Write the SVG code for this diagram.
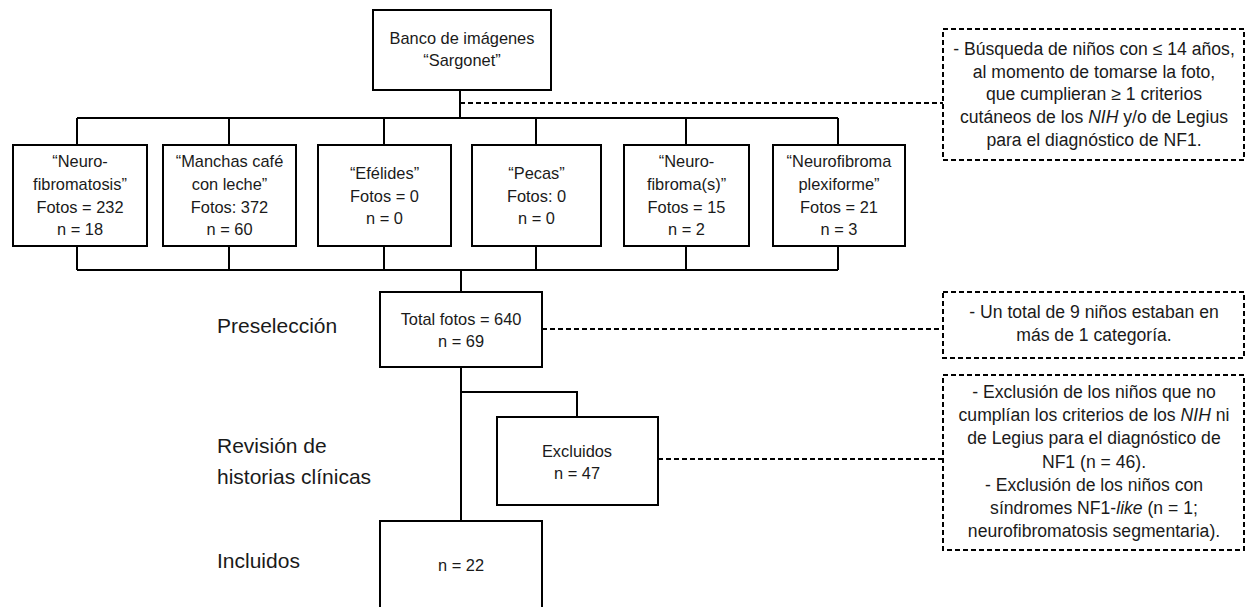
<svg xmlns="http://www.w3.org/2000/svg" width="1246" height="607" viewBox="0 0 1246 607">
<style>
.box{fill:#fff;stroke:#000;stroke-width:2}
.dbox{fill:#fff;stroke:#000;stroke-width:2;stroke-dasharray:5,3}
.ln{fill:none;stroke:#000;stroke-width:2}
.dl{fill:none;stroke:#000;stroke-width:2;stroke-dasharray:5,3}
text{font-family:"Liberation Sans",Arial,sans-serif;fill:#1a1a1a}
.t{font-size:16.4px;text-anchor:middle}
.n{font-size:17.6px;text-anchor:middle}
.lb{font-size:21px}
.i{font-style:italic}
</style>
<rect width="1246" height="607" fill="#fff"/>
<g id="connectors">
<path class="ln" d="M460,90V118M77,118H838M77,118V145M229,118V145M384,118V145M536,118V145M686,118V145M838,118V145"/>
<path class="ln" d="M77,246V270M229,246V270M384,246V270M536,246V270M686,246V270M838,246V270M77,270H838M461,270V292"/>
<path class="ln" d="M461,367V521M461,392H577V417"/>
<path class="dl" d="M460,103H943M542,329H943M658,459H943"/>
</g>
<g id="banco">
<rect class="box" x="373" y="10" width="178" height="80"/>
<text class="t" x="462" y="44">Banco de imágenes</text>
<text class="t" x="462" y="66">“Sargonet”</text>
</g>
<g id="cat1">
<rect class="box" x="13" y="145" width="134" height="101"/>
<text class="t" x="80" y="167">“Neuro-</text>
<text class="t" x="80" y="190">fibromatosis”</text>
<text class="t" x="80" y="212.5">Fotos = 232</text>
<text class="t" x="80" y="235">n = 18</text>
</g>
<g id="cat2">
<rect class="box" x="163" y="145" width="133" height="101"/>
<text class="t" x="229.5" y="167">“Manchas café</text>
<text class="t" x="229.5" y="190">con leche”</text>
<text class="t" x="229.5" y="212.5">Fotos: 372</text>
<text class="t" x="229.5" y="235">n = 60</text>
</g>
<g id="cat3">
<rect class="box" x="318" y="145" width="133" height="101"/>
<text class="t" x="384.5" y="179">“Efélides”</text>
<text class="t" x="384.5" y="201.5">Fotos = 0</text>
<text class="t" x="384.5" y="224">n = 0</text>
</g>
<g id="cat4">
<rect class="box" x="472" y="145" width="129" height="101"/>
<text class="t" x="536.5" y="179">“Pecas”</text>
<text class="t" x="536.5" y="201.5">Fotos: 0</text>
<text class="t" x="536.5" y="224">n = 0</text>
</g>
<g id="cat5">
<rect class="box" x="624" y="145" width="125" height="101"/>
<text class="t" x="686.5" y="167">“Neuro-</text>
<text class="t" x="686.5" y="190">fibroma(s)”</text>
<text class="t" x="686.5" y="212.5">Fotos = 15</text>
<text class="t" x="686.5" y="235">n = 2</text>
</g>
<g id="cat6">
<rect class="box" x="773" y="145" width="132" height="101"/>
<text class="t" x="839" y="167">“Neurofibroma</text>
<text class="t" x="839" y="190">plexiforme”</text>
<text class="t" x="839" y="212.5">Fotos = 21</text>
<text class="t" x="839" y="235">n = 3</text>
</g>
<g id="preseleccion">
<rect class="box" x="380" y="292" width="162" height="75"/>
<text class="t" x="461" y="325">Total fotos = 640</text>
<text class="t" x="461" y="347">n = 69</text>
</g>
<g id="excluidos">
<rect class="box" x="497" y="417" width="161" height="88"/>
<text class="t" x="577" y="457">Excluidos</text>
<text class="t" x="577" y="479">n = 47</text>
</g>
<g id="incluidos">
<rect class="box" x="380" y="521" width="162" height="100"/>
<text class="t" x="461" y="571">n = 22</text>
</g>
<g id="note1">
<rect class="dbox" x="943" y="29" width="301" height="131"/>
<text class="n" x="1094" y="55">- Búsqueda de niños con ≤ 14 años,</text>
<text class="n" x="1094" y="77.7">al momento de tomarse la foto,</text>
<text class="n" x="1094" y="100.4">que cumplieran ≥ 1 criterios</text>
<text class="n" x="1094" y="123">cutáneos de los <tspan class="i">NIH</tspan> y/o de Legius</text>
<text class="n" x="1094" y="145.8">para el diagnóstico de NF1.</text>
</g>
<g id="note2">
<rect class="dbox" x="943" y="292" width="301" height="66"/>
<text class="n" x="1094" y="318">- Un total de 9 niños estaban en</text>
<text class="n" x="1094" y="341">más de 1 categoría.</text>
</g>
<g id="note3">
<rect class="dbox" x="943" y="375" width="301" height="175"/>
<text class="n" x="1094" y="398">- Exclusión de los niños que no</text>
<text class="n" x="1094" y="421.2">cumplían los criterios de los <tspan class="i">NIH</tspan> ni</text>
<text class="n" x="1094" y="444.4">de Legius para el diagnóstico de</text>
<text class="n" x="1094" y="467.6">NF1 (n = 46).</text>
<text class="n" x="1094" y="490.8">- Exclusión de los niños con</text>
<text class="n" x="1094" y="514">síndromes NF1-<tspan class="i">like</tspan> (n = 1;</text>
<text class="n" x="1094" y="537.2">neurofibromatosis segmentaria).</text>
</g>
<g id="labels">
<text class="lb" x="217" y="333">Preselección</text>
<text class="lb" x="217" y="453">Revisión de</text>
<text class="lb" x="217" y="484">historias clínicas</text>
<text class="lb" x="217" y="568">Incluidos</text>
</g>
</svg>
